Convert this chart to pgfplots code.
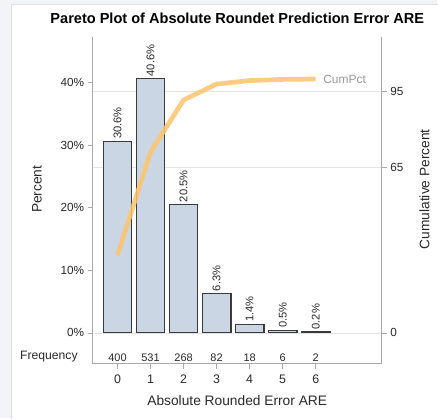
\documentclass[border=0pt]{standalone}
\usepackage{fontspec}
\setmainfont{Liberation Sans}
\usepackage{pgfplots}
\pgfplotsset{compat=1.18}
\definecolor{bgc}{HTML}{F2F4F7}
\definecolor{panelb}{HTML}{DCDFE4}
\definecolor{barfill}{HTML}{CBD6E5}
\definecolor{baredge}{HTML}{3A3A3A}
\definecolor{axc}{HTML}{A8A8A8}
\definecolor{txt}{HTML}{2A2A2A}
\definecolor{gridc}{HTML}{E4E4E4}
\definecolor{cumc}{HTML}{FDC46A}
\begin{document}
\begin{tikzpicture}[x=1pt,y=1pt]
\fill[bgc] (0,0) rectangle (438,419);
\fill[white] (11,0) rectangle (438,415);
\draw[panelb, line width=0.8pt] (11,-1) -- (11,415) -- (439,415);
\node[font=\bfseries\fontsize{14.6}{16}\selectfont, text=black] at (238,401) {Pareto Plot of Absolute Roundet Prediction Error ARE};
\begin{axis}[
  at={(93pt,54pt)}, anchor=south west,
  scale only axis, width=290pt, height=328pt,
  xmin=-0.75, xmax=8, ymin=-4.94, ymax=47.33,
  axis x line*=bottom, axis y line*=left,
  axis line style={axc, line width=0.8pt},
  tick align=outside, major tick length=5pt,
  tick style={axc, line width=0.8pt},
  xtick={0,1,2,3,4,5,6},
  ytick={0,10,20,30,40},
  yticklabel={\pgfmathprintnumber{\tick}\%},
  /pgf/number format/assume math mode=true,
  tick label style={font=\fontsize{11.8}{13}\selectfont, text=txt},
  xticklabel style={font=\fontsize{12.4}{13}\selectfont, yshift=-3pt},
  extra y ticks={0,26.39,38.57},
  extra y tick labels={},
  extra y tick style={grid=major, major tick length=0pt, grid style={gridc, line width=0.8pt}},
  ylabel={Percent},
  ylabel style={at={(axis description cs:-0.193,0.534)}, anchor=center, font=\fontsize{13.8}{15}\selectfont, text=txt},
  xlabel={Absolute Rounded Error ARE},
  xlabel style={at={(axis description cs:0.5,-0.113)}, anchor=center, font=\fontsize{13.8}{15}\selectfont, text=txt},
  clip=false,
]
\addplot[ybar, bar width=0.87, fill=barfill, draw=baredge, line width=1.1pt,
  nodes near coords={\pgfmathprintnumber[fixed,precision=1,fixed zerofill]{\pgfplotspointmeta}\%},
  nodes near coords style={rotate=90, anchor=west, font=\fontsize{11.2}{12}\selectfont, text=txt, inner sep=2pt},
] coordinates {(0,30.605) (1,40.627) (2,20.505) (3,6.274) (4,1.377) (5,0.459) (6,0.153)};
\addplot[draw=none, mark=none,
  nodes near coords, point meta=explicit symbolic,
  nodes near coords style={anchor=center, font=\fontsize{11}{12}\selectfont, text=txt},
] coordinates {(0,-3.98)[400] (1,-3.98)[531] (2,-3.98)[268] (3,-3.98)[82] (4,-3.98)[18] (5,-3.98)[6] (6,-3.98)[2]};
\node[anchor=east, font=\fontsize{12.2}{13}\selectfont, text=txt] at (axis description cs:-0.04,0.0218) {Frequency};
\end{axis}
\begin{axis}[
  at={(93pt,54pt)}, anchor=south west,
  scale only axis, width=290pt, height=328pt,
  xmin=-0.75, xmax=8, ymin=-12.17, ymax=116.6,
  axis y line*=right, axis x line=none,
  axis line style={axc, line width=0.8pt},
  tick align=outside, major tick length=5pt,
  tick style={axc, line width=0.8pt},
  ytick={0,65,95},
  /pgf/number format/assume math mode=true,
  tick label style={font=\fontsize{11.8}{13}\selectfont, text=txt},
  ylabel={Cumulative Percent},
  ylabel style={at={(axis description cs:1.148,0.534)}, anchor=center, rotate=0, font=\fontsize{13.8}{15}\selectfont, text=txt},
  clip=false,
]
\addplot[line width=4.7pt, color=cumc, opacity=0.85, line join=round] coordinates {(0,30.60) (1,71.23) (2,91.74) (3,98.01) (4,99.39) (5,99.85) (6,100)}
  node[pos=1, anchor=west, xshift=2pt, opacity=1, text=gray!80, font=\fontsize{12}{13}\selectfont] {CumPct};
\end{axis}
\end{tikzpicture}
\end{document}
